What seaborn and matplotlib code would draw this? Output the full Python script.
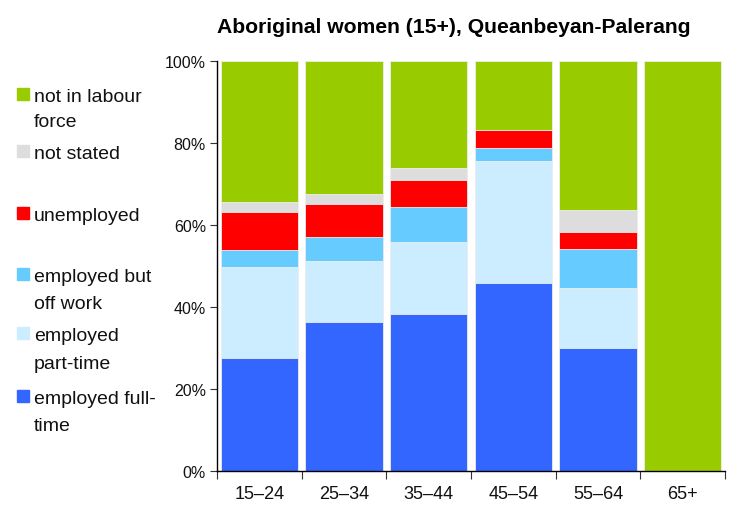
import numpy as np
import pandas as pd
import seaborn as sns
import matplotlib.pyplot as plt
from matplotlib.patches import Rectangle


#%% data (percent of age group)
age_groups = ["15–24", "25–34", "35–44", "45–54", "55–64", "65+"]
full_time = [27.6, 36.4, 38.4, 45.9, 29.9, 0]
part_time = [22.2, 14.8, 17.5, 29.6, 14.8, 0]
off_work = [4.1, 5.9, 8.6, 3.3, 9.4, 0]
unemployed = [9.3, 8.1, 6.5, 4.3, 4.1, 0]
not_stated = [2.3, 2.3, 3.0, 0, 5.4, 0]
not_in_lf = [34.5, 32.5, 26.0, 16.9, 36.4, 100]

labels = ["employed full-\ntime", "employed\npart-time", "employed but\noff work",
          "unemployed", "not stated", "not in labour\nforce"]
colors = ["#3366FF", "#CCECFF", "#66CCFF", "#FF0000", "#DDDDDD", "#99CC00"]

W, H = 731, 506


def stacked_bars(ax):
    """
    seaborn has no stacking, so draw cumulative totals from the top layer
    down and let each bar cover the one drawn before it
    """
    layers = [full_time, part_time, off_work, unemployed, not_stated, not_in_lf]
    cum = np.cumsum(np.array(layers, dtype=float), axis=0)
    df = pd.DataFrame(cum.T, columns=labels)
    df["age"] = age_groups

    for i in range(len(layers) - 1, -1, -1):
        sns.barplot(data=df, x="age", y=labels[i], order=age_groups, color=colors[i],
                    saturation=1, width=0.91, edgecolor="#EEEEEE", linewidth=0.6, ax=ax)


def legend_block(fig):
    # legend drawn by hand: marker sits on the first line of each label
    line_tops = [[390, 416.7], [326.7, 355], [268.3, 295], [206.7], [145], [88.3, 113.3]]
    for lab, col, tops in zip(labels, colors, line_tops):
        fig.patches.append(Rectangle((17 / W, 1 - (tops[0] + 13) / H), 12 / W, 12 / H,
                                     transform=fig.transFigure, color=col, figure=fig))
        for line, top in zip(lab.split("\n"), tops):
            fig.text(34 / W, 1 - (top + 14) / H, line, fontsize=14, va="baseline",
                     ha="left", color="#111111")


if __name__ == "__main__":
    sns.set_style("ticks")
    plt.rcParams["font.family"] = ["Liberation Sans", "DejaVu Sans"]
    plt.rcParams["text.color"] = "black"

    fig = plt.figure(figsize=(W / 100, H / 100), dpi=100)
    ax = fig.add_axes([217 / W, 1 - 472 / H, 508 / W, 410 / H])

    stacked_bars(ax)

    ax.set_xlim(-0.5, 5.5)
    ax.set_ylim(0, 100)
    ax.set_yticks([0, 20, 40, 60, 80, 100])
    ax.set_yticklabels([f"{v}%" for v in [0, 20, 40, 60, 80, 100]], fontsize=11.5,
                       color="#111111")
    ax.set_xticks(range(6))
    ax.set_xticklabels(age_groups, fontsize=13, color="#111111",
                       family=["Liberation Sans Narrow", "Liberation Sans"])
    ax.set_xticks(np.arange(-0.5, 6, 1), minor=True)
    ax.tick_params(axis="x", which="major", length=0, pad=10)
    ax.tick_params(axis="x", which="minor", length=6, width=0.8, color="#333333")
    ax.tick_params(axis="y", length=5, width=0.8, color="#333333", pad=3)
    ax.set_xlabel("")
    ax.set_ylabel("")
    sns.despine(ax=ax)
    for s in ["left", "bottom"]:
        ax.spines[s].set_linewidth(1.0)
        ax.spines[s].set_color("black")

    fig.text(453.5 / W, 1 - 33.5 / H, "Aboriginal women (15+), Queanbeyan-Palerang",
             fontsize=15.2, fontweight="bold", ha="center", va="baseline", color="black")

    legend_block(fig)

    fig.savefig("out.png", dpi=100)
